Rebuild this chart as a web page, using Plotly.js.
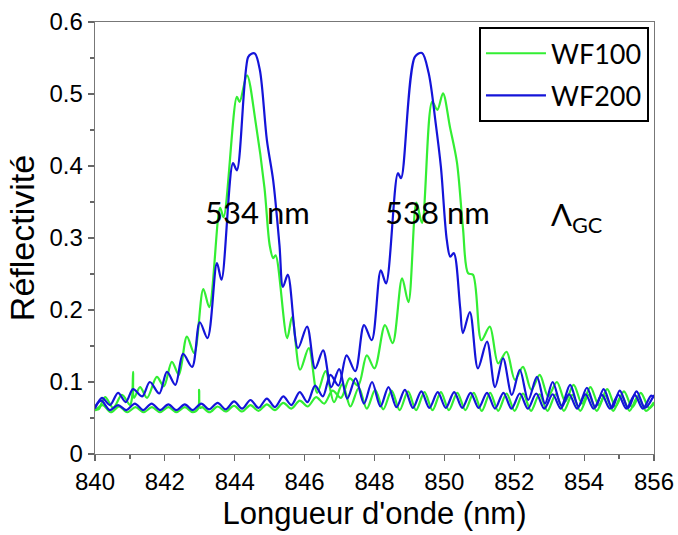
<!DOCTYPE html>
<html>
<head>
<meta charset="utf-8">
<script src="https://cdn.plot.ly/plotly-3.0.1.min.js"></script>
<style>html,body{margin:0;padding:0;background:#fff;}#chart{width:678px;height:535px;}</style>
</head>
<body>
<div id="chart"></div>
<script>
// WF100, grating 534 nm (green, peak near 844.3 nm)
const wf100_534_x = [840.00,840.10,840.29,840.52,840.77,841.00,841.06,841.09,841.12,841.29,841.49,841.77,841.97,842.20,842.40,842.63,842.84,843.10,843.27,843.58,843.68,844.06,844.14,844.35,844.60,844.85,845.00,845.10,845.17,845.50,845.64,845.87,846.12,846.36,846.60,846.84,847.08,847.31,847.55,847.78,848.02,848.25,848.49,848.72,848.96,849.19,849.43,849.66,849.90,850.13,850.37,850.60,850.84,851.07,851.31,851.54,851.78,852.01,852.25,852.48,852.72,852.95,853.19,853.42,853.66,853.89,854.13,854.36,854.60,854.83,855.07,855.30,855.54,855.77,856.00];
const wf100_534_y = [0.062,0.062,0.079,0.064,0.082,0.068,0.078,0.114,0.078,0.093,0.078,0.107,0.094,0.128,0.110,0.163,0.140,0.229,0.204,0.342,0.329,0.496,0.489,0.526,0.460,0.370,0.290,0.272,0.276,0.161,0.190,0.117,0.147,0.085,0.115,0.072,0.097,0.066,0.092,0.063,0.089,0.062,0.088,0.061,0.087,0.061,0.086,0.061,0.086,0.061,0.085,0.061,0.085,0.060,0.085,0.060,0.084,0.060,0.084,0.060,0.083,0.060,0.083,0.060,0.082,0.060,0.082,0.060,0.081,0.060,0.081,0.060,0.080,0.060,0.072];

// WF100, grating 538 nm (green, peak near 850 nm)
const wf100_538_x = [840.00,840.22,840.45,840.69,840.92,841.16,841.39,841.63,841.86,842.10,842.33,842.57,842.80,842.95,842.98,843.01,843.07,843.28,843.51,843.74,843.98,844.21,844.45,844.68,844.92,845.15,845.39,845.62,845.86,846.09,846.33,846.56,846.80,847.04,847.29,847.53,847.78,848.00,848.30,848.52,848.79,848.97,849.20,849.36,849.65,849.80,849.96,850.16,850.36,850.53,850.68,850.82,851.06,851.30,851.54,851.78,852.02,852.25,852.49,852.73,852.97,853.22,853.46,853.70,853.94,854.18,854.42,854.66,854.90,855.14,855.38,855.62,855.86,856.00];
const wf100_538_y = [0.060,0.068,0.058,0.066,0.058,0.065,0.058,0.065,0.058,0.065,0.058,0.065,0.058,0.063,0.089,0.064,0.065,0.058,0.066,0.059,0.067,0.059,0.068,0.060,0.069,0.061,0.071,0.063,0.074,0.066,0.079,0.070,0.088,0.078,0.105,0.095,0.137,0.119,0.179,0.154,0.244,0.211,0.349,0.321,0.489,0.478,0.501,0.454,0.405,0.315,0.251,0.249,0.158,0.177,0.126,0.142,0.103,0.121,0.089,0.110,0.080,0.100,0.073,0.096,0.070,0.093,0.068,0.090,0.066,0.087,0.065,0.085,0.064,0.070];

// WF200, grating 534 nm (blue, peak near 844.5 nm)
const wf200_534_x = [840.00,840.20,840.43,840.66,840.88,841.09,841.35,841.57,841.84,842.06,842.30,842.52,842.78,843.00,843.22,843.49,843.62,843.95,844.06,844.38,844.48,844.58,844.72,844.92,845.10,845.28,845.38,845.52,845.81,846.07,846.30,846.53,846.76,846.99,847.22,847.46,847.70,847.93,848.17,848.40,848.63,848.87,849.10,849.34,849.57,849.81,850.04,850.28,850.51,850.75,850.98,851.22,851.45,851.69,851.92,852.16,852.39,852.63,852.86,853.10,853.33,853.57,853.80,854.04,854.27,854.51,854.74,854.98,855.21,855.45,855.68,855.92,856.00];
const wf200_534_y = [0.063,0.078,0.068,0.085,0.072,0.090,0.080,0.100,0.084,0.114,0.096,0.139,0.121,0.183,0.161,0.265,0.242,0.404,0.394,0.551,0.556,0.556,0.533,0.436,0.380,0.290,0.232,0.249,0.147,0.177,0.119,0.144,0.093,0.118,0.077,0.105,0.070,0.100,0.066,0.093,0.065,0.089,0.064,0.087,0.064,0.086,0.064,0.086,0.064,0.085,0.064,0.085,0.063,0.085,0.063,0.084,0.063,0.084,0.063,0.083,0.063,0.083,0.063,0.083,0.063,0.082,0.063,0.082,0.063,0.082,0.063,0.081,0.078];

// WF200, grating 538 nm (blue, peak near 849.3 nm)
const wf200_538_x = [840.00,840.18,840.42,840.66,840.90,841.14,841.38,841.62,841.86,842.10,842.33,842.57,842.80,843.04,843.27,843.51,843.74,843.98,844.21,844.45,844.68,844.92,845.15,845.39,845.62,845.86,846.08,846.30,846.52,846.74,846.97,847.20,847.45,847.70,847.92,848.18,848.33,848.67,848.76,849.16,849.36,849.55,849.75,849.90,850.07,850.17,850.27,850.45,850.53,850.73,850.96,851.22,851.45,851.68,851.93,852.16,852.40,852.65,852.88,853.10,853.35,853.60,853.84,854.08,854.32,854.56,854.80,855.02,855.26,855.50,855.74,856.00];
const wf200_538_y = [0.066,0.074,0.061,0.068,0.061,0.070,0.061,0.070,0.061,0.069,0.061,0.069,0.061,0.070,0.062,0.071,0.062,0.073,0.063,0.075,0.064,0.077,0.065,0.080,0.068,0.086,0.072,0.095,0.080,0.110,0.095,0.137,0.115,0.179,0.158,0.255,0.237,0.390,0.383,0.552,0.557,0.529,0.460,0.399,0.297,0.274,0.279,0.204,0.168,0.197,0.119,0.156,0.093,0.133,0.082,0.117,0.075,0.107,0.070,0.100,0.067,0.096,0.066,0.092,0.065,0.090,0.064,0.088,0.064,0.087,0.064,0.082];

const seriesNames = ["WF100", "WF200"];
const peakLabels = ["534 nm", "538 nm", "Λ<sub>GC</sub>"];
const xTicks = [840,842,844,846,848,850,852,854,856];
const yTicks = [0,0.1,0.2,0.3,0.4,0.5,0.6];

const green = "#33ee33";
const blue = "#1414d9";
const lineW = 2.2;

function tr(x, y, name, color, show) {
  return {x: x, y: y, type: "scatter", mode: "lines", name: name, showlegend: show,
          legendgroup: name, line: {color: color, width: lineW, shape: "spline", smoothing: 0.9},
          hoverinfo: "x+y"};
}

const data = [
  tr(wf100_534_x, wf100_534_y, seriesNames[0], green, true),
  tr(wf100_538_x, wf100_538_y, seriesNames[0], green, false),
  tr(wf200_534_x, wf200_534_y, seriesNames[1], blue, true),
  tr(wf200_538_x, wf200_538_y, seriesNames[1], blue, false)
];

const axisFont = {family: "Liberation Sans, Arial, sans-serif", size: 24, color: "#000"};
const annFont = {family: "Lato, Open Sans, sans-serif", size: 31, color: "#000"};
const layout = {
  width: 678, height: 535,
  margin: {l: 95, r: 24, t: 22, b: 81, pad: 0},
  paper_bgcolor: "#fff", plot_bgcolor: "#fff",
  showlegend: true,
  legend: {x: 0.991, y: 0.988, xanchor: "right", yanchor: "top",
           bordercolor: "#000", borderwidth: 2, bgcolor: "#fff",
           itemwidth: 60,
           font: {family: "Lato, Open Sans, sans-serif", size: 27, color: "#000"},
           tracegroupgap: 4},
  xaxis: {range: [840, 856], tickvals: xTicks, ticks: "outside", ticklen: 6, tickwidth: 1.2,
          tickcolor: "#666", showline: true, linecolor: "#777", linewidth: 1.3, mirror: true,
          showgrid: false, zeroline: false, tickfont: axisFont,
          minor: {dtick: 1, ticks: "outside", ticklen: 4, tickcolor: "#666", showgrid: false},
          title: {text: "Longueur d'onde (nm)", standoff: 8,
                  font: {family: "Liberation Sans, Arial, sans-serif", size: 31, color: "#000"}}},
  yaxis: {range: [0, 0.6], tickvals: yTicks, ticks: "outside", ticklen: 6, tickwidth: 1.2,
          tickcolor: "#666", showline: true, linecolor: "#777", linewidth: 1.3, mirror: true,
          showgrid: false, zeroline: false, tickfont: axisFont,
          minor: {dtick: 0.05, ticks: "outside", ticklen: 4, tickcolor: "#666", showgrid: false},
          title: {text: "Réflectivité", standoff: 4,
                  font: {family: "Liberation Sans, Arial, sans-serif", size: 34, color: "#000"}}},
  annotations: [
    {x: 844.64, y: 0.336, text: peakLabels[0], showarrow: false, xanchor: "center", yanchor: "middle", font: annFont},
    {x: 849.79, y: 0.336, text: peakLabels[1], showarrow: false, xanchor: "center", yanchor: "middle", font: annFont},
    {x: 853.8, y: 0.33, text: peakLabels[2], showarrow: false, xanchor: "center", yanchor: "middle", font: annFont}
  ]
};

Plotly.newPlot("chart", data, layout, {displayModeBar: false, staticPlot: true});
</script>
</body>
</html>
